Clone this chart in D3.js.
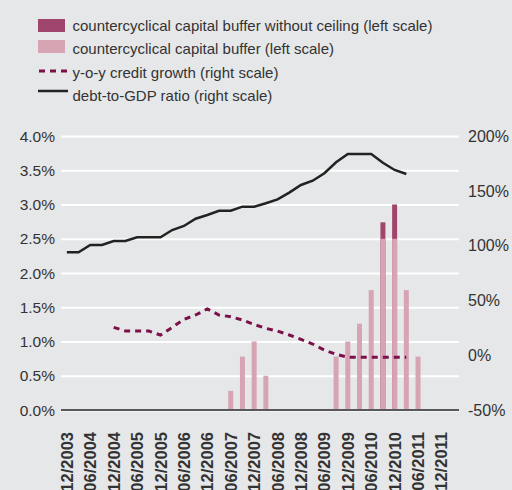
<!DOCTYPE html>
<html><head><meta charset="utf-8">
<script src="https://cdn.jsdelivr.net/npm/d3@7"></script>
<style>
html,body{margin:0;padding:0;background:#e6e7e9;}
svg{display:block;font-family:"Liberation Sans",Arial,Helvetica,sans-serif;}
</style></head>
<body>
<svg id="c" width="512" height="490"></svg>
<script>
// quarterly periods from 12/2003 to 12/2011
const quarters = ["12/2003","03/2004","06/2004","09/2004","12/2004","03/2005","06/2005","09/2005","12/2005",
 "03/2006","06/2006","09/2006","12/2006","03/2007","06/2007","09/2007","12/2007","03/2008","06/2008","09/2008",
 "12/2008","03/2009","06/2009","09/2009","12/2009","03/2010","06/2010","09/2010","12/2010","03/2011","06/2011",
 "09/2011","12/2011"];
const tickLabels = ["12/2003","06/2004","12/2004","06/2005","12/2005","06/2006","12/2006","06/2007","12/2007",
 "06/2008","12/2008","06/2009","12/2009","06/2010","12/2010","06/2011","12/2011"];
// countercyclical capital buffer (left scale, %)
const bufferQ = ["06/2007","09/2007","12/2007","03/2008","09/2009","12/2009","03/2010","06/2010","09/2010","12/2010","03/2011","06/2011"];
const buffer  = [0.28,0.78,1.0,0.5,0.78,1.0,1.26,1.75,2.5,2.5,1.75,0.78];
// buffer without ceiling (left scale, %)
const noCeilQ = ["09/2010","12/2010"];
const noCeil  = [2.74,3.0];
// y-o-y credit growth (right scale, %), from 12/2004 to 03/2011
const creditQ = quarters.slice(4,30);
const credit  = [25.4,22.1,22.1,22,18.4,25.4,32.7,36.7,42.2,36.7,35.1,32.1,28,24.5,22,18.4,14.5,10.2,4.7,0.8,-1.9,-1.9,-1.9,-1.9,-1.9,-1.9];
// debt-to-GDP ratio (right scale, %), from 12/2003 to 03/2011
const debtQ = quarters.slice(0,30);
const debt  = [93.9,93.9,100.5,100.5,104.2,104.2,107.6,107.6,107.6,114.2,117.9,124.5,127.9,131.8,131.8,135.5,135.5,138.6,142.2,148.3,155.3,159.2,166,176,183.6,183.6,183.6,175.6,169,165.3];
const leftTicks = [0,0.5,1,1.5,2,2.5,3,3.5,4];
const rightTicks = [-50,0,50,100,150,200];

const svg = d3.select("#c");
const L = 61, R = 459, T = 136, B = 410;
const idx = q => quarters.indexOf(q);
const x = d3.scaleLinear().domain([-0.5, quarters.length + 0.5]).range([L, R]);
const yL = d3.scaleLinear().domain([0,4]).range([B,T]);
const yR = d3.scaleLinear().domain([-50,200]).range([B,T]);

// gridlines
const gl = d3.axisLeft(yL).tickValues(leftTicks).tickSize(-(R-L)).tickFormat("");
svg.append("g").attr("transform",`translate(${L},0)`).call(gl)
  .call(g=>g.select(".domain").remove())
  .call(g=>g.selectAll("line").attr("stroke","#ffffff").attr("stroke-width",2));

// left labels
svg.append("g").selectAll("text").data(leftTicks).join("text")
  .attr("x",55).attr("y",d=>yL(d)).attr("dy","0.36em").attr("text-anchor","end")
  .attr("font-size",15.5).attr("fill","#333").text(d=>d.toFixed(1)+"%");
// right labels
svg.append("g").selectAll("text").data(rightTicks).join("text")
  .attr("x",468).attr("y",d=>yR(d)).attr("dy","0.36em").attr("text-anchor","start")
  .attr("font-size",16).attr("fill","#333").text(d=>d+"%");

// bars
const bw = 5;
svg.append("g").selectAll("rect").data(noCeilQ.map((q,i)=>({q,v:noCeil[i]}))).join("rect")
  .attr("x",d=>x(idx(d.q))-bw/2).attr("width",bw)
  .attr("y",d=>yL(d.v)).attr("height",d=>B-yL(d.v)).attr("fill","#a0466d");
svg.append("g").selectAll("rect").data(bufferQ.map((q,i)=>({q,v:buffer[i]}))).join("rect")
  .attr("x",d=>x(idx(d.q))-bw/2).attr("width",bw)
  .attr("y",d=>yL(d.v)).attr("height",d=>B-yL(d.v)).attr("fill","#d7a4b4");

// bottom axis line
svg.append("line").attr("x1",L).attr("x2",R).attr("y1",B).attr("y2",B)
  .attr("stroke","#58585a").attr("stroke-width",2);

// lines
const line = d3.line().x(d=>x(idx(d.q))).y(d=>yR(d.v));
svg.append("path").datum(creditQ.map((q,i)=>({q,v:credit[i]})))
  .attr("d",line).attr("fill","none").attr("stroke","#7c1049").attr("stroke-width",3)
  .attr("stroke-dasharray","6,5");
svg.append("path").datum(debtQ.map((q,i)=>({q,v:debt[i]})))
  .attr("d",line).attr("fill","none").attr("stroke","#222").attr("stroke-width",2.5);

// x labels
svg.append("g").selectAll("text").data(tickLabels).join("text")
  .attr("transform",d=>`translate(${x(idx(d))+6},432) rotate(-90)`)
  .attr("text-anchor","end").attr("font-size",16.5).attr("font-weight","bold").attr("fill","#333")
  .text(d=>d);

// legend
const lg = svg.append("g");
lg.append("rect").attr("x",38).attr("y",19).attr("width",27).attr("height",13).attr("fill","#a0466d");
lg.append("rect").attr("x",38).attr("y",40).attr("width",27).attr("height",13).attr("fill","#d7a4b4");
lg.append("line").attr("x1",39).attr("x2",67).attr("y1",71).attr("y2",71)
  .attr("stroke","#7c1049").attr("stroke-width",3).attr("stroke-dasharray","6,5");
lg.append("line").attr("x1",38).attr("x2",68).attr("y1",91).attr("y2",91)
  .attr("stroke","#222").attr("stroke-width",2.5);
const legendTexts = ["countercyclical capital buffer without ceiling (left scale)","countercyclical capital buffer (left scale)","y-o-y credit growth (right scale)","debt-to-GDP ratio (right scale)"];
lg.selectAll("text").data(legendTexts).join("text")
  .attr("x",72.5).attr("y",(d,i)=>25.5+i*23.5).attr("dy","0.36em")
  .attr("font-size",15).attr("fill","#333").text(d=>d);
</script>
</body></html>
